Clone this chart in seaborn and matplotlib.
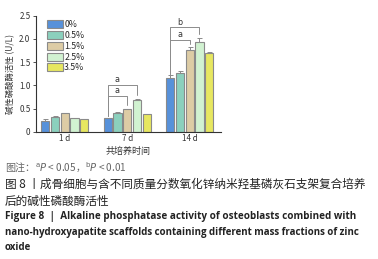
import numpy as np
import pandas as pd
import seaborn as sns
import matplotlib.pyplot as plt

# data
days = ["1 d", "7 d", "14 d"]
groups = ["0%", "0.5%", "1.5%", "2.5%", "3.5%"]
alp_1d = [0.23, 0.31, 0.40, 0.29, 0.27]
alp_7d = [0.29, 0.40, 0.49, 0.68, 0.38]
alp_14d = [1.15, 1.26, 1.77, 1.94, 1.70]
err_1d = [0.04, 0.02, 0.01, 0.01, 0.01]
err_7d = [0.01, 0.02, 0.01, 0.03, 0.01]
err_14d = [0.07, 0.04, 0.05, 0.07, 0.01]

colors = ["#418ff0", "#7fdcc2", "#e6d09c", "#cbf7cb", "#fdfd4a"]

sns.set_theme(style="white")
plt.rcParams["font.family"] = ["Noto Sans CJK SC", "DejaVu Sans"]

rows = []
for d, vals, errs in zip(days, [alp_1d, alp_7d, alp_14d], [err_1d, err_7d, err_14d]):
    for g, v, e in zip(groups, vals, errs):
        rows.append({"day": d, "group": g, "alp": v, "err": e})
df = pd.DataFrame(rows)

fig = plt.figure(figsize=(3.78, 2.59), dpi=100)
ax = fig.add_axes([0.0952, 0.4915, 0.4894, 0.4479])

sns.barplot(data=df, x="day", y="alp", hue="group", order=days, hue_order=groups,
            palette=colors, width=0.78, gap=0.16, errorbar=None,
            edgecolor="#8a8a8a", linewidth=0.8, ax=ax)

# error bars (upper side only)
bar_conts = list(ax.containers)
centers = {}
for gi, cont in enumerate(bar_conts):
    for di, bar in enumerate(cont):
        x = bar.get_x() + bar.get_width() / 2
        centers[(di, gi)] = x
        sub = df[(df.day == days[di]) & (df.group == groups[gi])].iloc[0]
        ax.errorbar(x, sub.alp, yerr=[[0], [sub.err]], fmt="none",
                    ecolor="#8a8a8a", elinewidth=0.7, capsize=1.8, capthick=0.7)

def bracket(di, g1, g2, y, y1, y2, label, ly):
    x1, x2 = centers[(di, g1)], centers[(di, g2)]
    ax.plot([x1, x1, x2, x2], [y1, y, y, y2], color="#8c8c8c", lw=0.7)
    ax.text((centers[(di, 0)] + centers[(di, 2)]) / 2, ly, label, ha="center",
            va="center", fontsize=5.8, color="#333333", family=["DejaVu Sans"])

bracket(1, 0, 2, 0.77, 0.34, 0.58, "a", 0.88)
bracket(1, 0, 3, 1.00, 0.34, 0.80, "a", 1.13)
bracket(2, 0, 2, 1.98, 1.24, 1.89, "a", 2.09)
bracket(2, 0, 3, 2.25, 1.24, 2.11, "b", 2.36)

ax.set_xlim(-0.46, 2.5)
ax.set_ylim(0, 2.5)
ax.set_yticks([0, 0.5, 1.0, 1.5, 2.0, 2.5])
ax.set_yticklabels(["0", "0.5", "1.0", "1.5", "2.0", "2.5"])
ax.tick_params(axis="both", labelsize=5.8, colors="#333333", length=0, pad=2)
ax.tick_params(axis="y", length=2, width=0.6, direction="out", left=True)
ax.set_xlabel("共培养时间", fontsize=6.5, color="#333333", labelpad=2)
ax.set_ylabel("碱性磷酸酶活性 (U/L)", fontsize=6, color="#333333", labelpad=3)
for s in ["top", "right"]:
    ax.spines[s].set_visible(False)
for s in ["left", "bottom"]:
    ax.spines[s].set_color("#333333")
    ax.spines[s].set_linewidth(0.8)

ax.legend(loc="upper left", bbox_to_anchor=(0.06, 0.96), frameon=False,
          fontsize=6.3, handlelength=1.8, handleheight=1.0, labelspacing=0.2,
          handletextpad=0.15, borderaxespad=0, borderpad=0)

# caption text
fig.text(0.013, 1 - 168 / 259, "图注：$^{\\mathrm{a}}$$P$ < 0.05，$^{\\mathrm{b}}$$P$ < 0.01",
         fontsize=7.2, color="#666666", va="center")
fig.text(0.013, 1 - 184 / 259, "图 8 丨成骨细胞与含不同质量分数氧化锌纳米羟基磷灰石支架复合培养",
         fontsize=8.4, color="#222222", va="center")
fig.text(0.013, 1 - 201 / 259, "后的碱性磷酸酶活性", fontsize=8.4, color="#222222", va="center")
fig.text(0.013, 1 - 217 / 259, "Figure 8  |  Alkaline phosphatase activity of osteoblasts combined with",
         fontsize=7.1, weight="bold", color="#222222", va="center", family=["Open Sans"])
fig.text(0.013, 1 - 233 / 259, "nano-hydroxyapatite scaffolds containing different mass fractions of zinc",
         fontsize=7.0, weight="bold", color="#222222", va="center", family=["Open Sans"])
fig.text(0.013, 1 - 247 / 259, "oxide", fontsize=7.0, weight="bold", color="#222222",
         va="center", family=["Open Sans"])

fig.savefig("out.png", dpi=100)
